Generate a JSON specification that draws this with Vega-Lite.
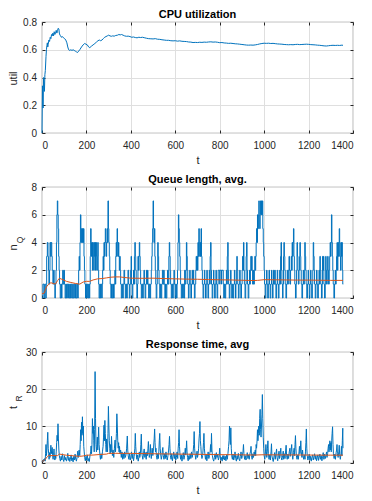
{
"$schema":"https://vega.github.io/schema/vega-lite/v6.json",
"padding":{"left":6,"top":8,"right":0,"bottom":0},
"spacing":54,
"bounds":"flush",
"config":{
"font":"Liberation Sans",
"view":{"stroke":"#8c8c8c","strokeWidth":1.2},
"axis":{"labelFont":"Liberation Sans","labelFontSize":10,"labelColor":"#262626","titleFont":"Liberation Sans","titleFontSize":11,"titleFontWeight":"normal","titleColor":"#262626","domain":false,"gridColor":"#dfdfdf","gridWidth":1,"tickColor":"#262626","tickSize":-3,"tickWidth":1},
"title":{"font":"Liberation Sans","fontSize":11,"fontWeight":"bold","color":"#000000","offset":-3}
},
"datasets":{
"cpu":[{"t":0,"u":0},{"t":2,"u":0.34},{"t":4,"u":0.2},{"t":5,"u":0.18},{"t":7,"u":0.4},{"t":9,"u":0.36},{"t":11,"u":0.3},{"t":13,"u":0.42},{"t":15,"u":0.45},{"t":18,"u":0.55},{"t":20,"u":0.6},{"t":22,"u":0.63},{"t":24,"u":0.65},{"t":26,"u":0.62},{"t":28,"u":0.64},{"t":31,"u":0.67},{"t":34,"u":0.66},{"t":37,"u":0.69},{"t":40,"u":0.68},{"t":43,"u":0.71},{"t":46,"u":0.7},{"t":49,"u":0.72},{"t":52,"u":0.7},{"t":55,"u":0.73},{"t":58,"u":0.71},{"t":61,"u":0.72},{"t":64,"u":0.74},{"t":67,"u":0.72},{"t":70,"u":0.74},{"t":73,"u":0.755},{"t":76,"u":0.75},{"t":78,"u":0.72},{"t":81,"u":0.705},{"t":84,"u":0.7},{"t":87,"u":0.69},{"t":92,"u":0.695},{"t":97,"u":0.685},{"t":102,"u":0.68},{"t":107,"u":0.67},{"t":112,"u":0.65},{"t":116,"u":0.62},{"t":120,"u":0.6},{"t":125,"u":0.595},{"t":130,"u":0.6},{"t":135,"u":0.595},{"t":140,"u":0.6},{"t":145,"u":0.595},{"t":150,"u":0.59},{"t":155,"u":0.585},{"t":160,"u":0.58},{"t":165,"u":0.59},{"t":170,"u":0.6},{"t":178,"u":0.62},{"t":185,"u":0.635},{"t":192,"u":0.645},{"t":198,"u":0.64},{"t":204,"u":0.635},{"t":210,"u":0.62},{"t":215,"u":0.615},{"t":222,"u":0.625},{"t":230,"u":0.635},{"t":238,"u":0.645},{"t":245,"u":0.655},{"t":252,"u":0.665},{"t":258,"u":0.67},{"t":264,"u":0.665},{"t":270,"u":0.67},{"t":276,"u":0.68},{"t":282,"u":0.69},{"t":288,"u":0.695},{"t":294,"u":0.7},{"t":300,"u":0.705},{"t":306,"u":0.7},{"t":312,"u":0.697},{"t":318,"u":0.7},{"t":325,"u":0.698},{"t":332,"u":0.703},{"t":340,"u":0.705},{"t":346,"u":0.71},{"t":352,"u":0.707},{"t":358,"u":0.71},{"t":365,"u":0.705},{"t":372,"u":0.7},{"t":380,"u":0.697},{"t":388,"u":0.698},{"t":396,"u":0.695},{"t":404,"u":0.69},{"t":412,"u":0.692},{"t":420,"u":0.688},{"t":428,"u":0.686},{"t":436,"u":0.69},{"t":444,"u":0.688},{"t":452,"u":0.69},{"t":460,"u":0.687},{"t":470,"u":0.683},{"t":480,"u":0.68},{"t":490,"u":0.679},{"t":500,"u":0.678},{"t":510,"u":0.68},{"t":520,"u":0.676},{"t":530,"u":0.675},{"t":540,"u":0.672},{"t":550,"u":0.67},{"t":560,"u":0.668},{"t":570,"u":0.668},{"t":580,"u":0.665},{"t":590,"u":0.664},{"t":600,"u":0.665},{"t":610,"u":0.662},{"t":620,"u":0.664},{"t":630,"u":0.661},{"t":640,"u":0.66},{"t":650,"u":0.659},{"t":660,"u":0.656},{"t":670,"u":0.655},{"t":680,"u":0.652},{"t":690,"u":0.653},{"t":700,"u":0.652},{"t":710,"u":0.654},{"t":720,"u":0.653},{"t":730,"u":0.655},{"t":740,"u":0.654},{"t":750,"u":0.656},{"t":760,"u":0.657},{"t":770,"u":0.655},{"t":780,"u":0.656},{"t":790,"u":0.654},{"t":800,"u":0.651},{"t":810,"u":0.652},{"t":820,"u":0.649},{"t":830,"u":0.648},{"t":840,"u":0.646},{"t":850,"u":0.647},{"t":860,"u":0.645},{"t":870,"u":0.643},{"t":880,"u":0.642},{"t":890,"u":0.64},{"t":900,"u":0.638},{"t":910,"u":0.636},{"t":920,"u":0.634},{"t":930,"u":0.633},{"t":940,"u":0.634},{"t":950,"u":0.633},{"t":960,"u":0.635},{"t":970,"u":0.638},{"t":980,"u":0.642},{"t":990,"u":0.645},{"t":1000,"u":0.647},{"t":1010,"u":0.646},{"t":1020,"u":0.647},{"t":1030,"u":0.645},{"t":1040,"u":0.646},{"t":1050,"u":0.644},{"t":1060,"u":0.642},{"t":1070,"u":0.641},{"t":1080,"u":0.64},{"t":1090,"u":0.638},{"t":1100,"u":0.637},{"t":1110,"u":0.636},{"t":1120,"u":0.637},{"t":1130,"u":0.636},{"t":1140,"u":0.638},{"t":1150,"u":0.639},{"t":1160,"u":0.637},{"t":1170,"u":0.638},{"t":1180,"u":0.639},{"t":1190,"u":0.64},{"t":1200,"u":0.639},{"t":1210,"u":0.637},{"t":1220,"u":0.636},{"t":1230,"u":0.635},{"t":1240,"u":0.633},{"t":1250,"u":0.632},{"t":1260,"u":0.63},{"t":1270,"u":0.628},{"t":1280,"u":0.627},{"t":1290,"u":0.629},{"t":1300,"u":0.631},{"t":1310,"u":0.632},{"t":1320,"u":0.631},{"t":1330,"u":0.632},{"t":1340,"u":0.631},{"t":1350,"u":0.633},{"t":1355,"u":0.632}],
"queue":[{"t":0,"n":0},{"t":4,"n":1},{"t":9,"n":0},{"t":12,"n":1},{"t":17,"n":0},{"t":19,"n":1},{"t":21,"n":3},{"t":24,"n":4},{"t":27,"n":3},{"t":29,"n":2},{"t":31,"n":1},{"t":34,"n":2},{"t":36,"n":4},{"t":39,"n":3},{"t":41,"n":4},{"t":44,"n":3},{"t":46,"n":2},{"t":49,"n":1},{"t":52,"n":2},{"t":55,"n":1},{"t":58,"n":0},{"t":60,"n":1},{"t":63,"n":2},{"t":65,"n":4},{"t":67,"n":6},{"t":69,"n":7},{"t":71,"n":6},{"t":73,"n":5},{"t":75,"n":3},{"t":77,"n":2},{"t":79,"n":1},{"t":82,"n":0},{"t":85,"n":1},{"t":88,"n":0},{"t":90,"n":1},{"t":93,"n":2},{"t":96,"n":1},{"t":99,"n":2},{"t":101,"n":1},{"t":104,"n":0},{"t":107,"n":1},{"t":110,"n":0},{"t":113,"n":1},{"t":116,"n":0},{"t":119,"n":1},{"t":122,"n":0},{"t":125,"n":1},{"t":128,"n":0},{"t":131,"n":1},{"t":134,"n":0},{"t":138,"n":1},{"t":141,"n":0},{"t":145,"n":1},{"t":148,"n":0},{"t":151,"n":1},{"t":154,"n":0},{"t":158,"n":1},{"t":161,"n":0},{"t":163,"n":1},{"t":165,"n":2},{"t":167,"n":3},{"t":169,"n":2},{"t":171,"n":4},{"t":173,"n":6},{"t":175,"n":5},{"t":177,"n":4},{"t":179,"n":5},{"t":181,"n":4},{"t":183,"n":5},{"t":185,"n":4},{"t":187,"n":5},{"t":189,"n":3},{"t":191,"n":2},{"t":193,"n":1},{"t":196,"n":0},{"t":198,"n":1},{"t":201,"n":0},{"t":204,"n":1},{"t":207,"n":0},{"t":210,"n":1},{"t":213,"n":0},{"t":215,"n":1},{"t":217,"n":3},{"t":219,"n":5},{"t":221,"n":4},{"t":223,"n":3},{"t":225,"n":4},{"t":227,"n":2},{"t":229,"n":4},{"t":231,"n":3},{"t":233,"n":2},{"t":235,"n":4},{"t":237,"n":3},{"t":239,"n":4},{"t":241,"n":2},{"t":243,"n":4},{"t":245,"n":3},{"t":247,"n":2},{"t":249,"n":3},{"t":251,"n":4},{"t":253,"n":2},{"t":255,"n":1},{"t":257,"n":0},{"t":260,"n":1},{"t":263,"n":0},{"t":266,"n":1},{"t":269,"n":0},{"t":271,"n":1},{"t":273,"n":2},{"t":275,"n":3},{"t":277,"n":2},{"t":279,"n":4},{"t":281,"n":3},{"t":283,"n":4},{"t":285,"n":5},{"t":287,"n":4},{"t":289,"n":3},{"t":291,"n":4},{"t":293,"n":5},{"t":295,"n":4},{"t":297,"n":7},{"t":299,"n":5},{"t":301,"n":4},{"t":303,"n":3},{"t":305,"n":2},{"t":307,"n":1},{"t":310,"n":0},{"t":313,"n":1},{"t":316,"n":0},{"t":319,"n":1},{"t":322,"n":0},{"t":325,"n":1},{"t":328,"n":2},{"t":330,"n":1},{"t":332,"n":3},{"t":334,"n":4},{"t":336,"n":3},{"t":338,"n":5},{"t":340,"n":4},{"t":342,"n":3},{"t":344,"n":4},{"t":346,"n":3},{"t":348,"n":2},{"t":350,"n":3},{"t":352,"n":2},{"t":354,"n":1},{"t":357,"n":0},{"t":360,"n":1},{"t":363,"n":0},{"t":366,"n":1},{"t":369,"n":2},{"t":372,"n":1},{"t":375,"n":0},{"t":378,"n":1},{"t":381,"n":0},{"t":384,"n":1},{"t":387,"n":2},{"t":390,"n":1},{"t":393,"n":0},{"t":396,"n":1},{"t":399,"n":2},{"t":401,"n":3},{"t":403,"n":1},{"t":406,"n":0},{"t":409,"n":1},{"t":412,"n":2},{"t":414,"n":1},{"t":416,"n":3},{"t":418,"n":4},{"t":420,"n":3},{"t":422,"n":2},{"t":424,"n":1},{"t":427,"n":0},{"t":430,"n":1},{"t":432,"n":3},{"t":434,"n":2},{"t":436,"n":3},{"t":438,"n":4},{"t":440,"n":3},{"t":442,"n":2},{"t":444,"n":1},{"t":447,"n":0},{"t":450,"n":1},{"t":453,"n":0},{"t":456,"n":1},{"t":459,"n":2},{"t":461,"n":1},{"t":464,"n":0},{"t":467,"n":1},{"t":470,"n":2},{"t":472,"n":1},{"t":475,"n":2},{"t":477,"n":1},{"t":480,"n":0},{"t":483,"n":1},{"t":486,"n":0},{"t":489,"n":1},{"t":492,"n":2},{"t":494,"n":3},{"t":496,"n":4},{"t":498,"n":5},{"t":500,"n":7},{"t":502,"n":5},{"t":504,"n":4},{"t":506,"n":5},{"t":508,"n":3},{"t":510,"n":2},{"t":512,"n":1},{"t":514,"n":0},{"t":517,"n":1},{"t":519,"n":2},{"t":521,"n":4},{"t":523,"n":3},{"t":525,"n":2},{"t":527,"n":1},{"t":530,"n":0},{"t":533,"n":1},{"t":536,"n":0},{"t":539,"n":1},{"t":542,"n":2},{"t":545,"n":1},{"t":548,"n":2},{"t":550,"n":1},{"t":553,"n":0},{"t":556,"n":1},{"t":559,"n":0},{"t":562,"n":1},{"t":565,"n":2},{"t":568,"n":1},{"t":571,"n":3},{"t":573,"n":4},{"t":575,"n":3},{"t":577,"n":2},{"t":579,"n":1},{"t":582,"n":0},{"t":585,"n":1},{"t":588,"n":0},{"t":591,"n":1},{"t":594,"n":2},{"t":596,"n":1},{"t":599,"n":0},{"t":602,"n":1},{"t":605,"n":0},{"t":608,"n":1},{"t":610,"n":2},{"t":612,"n":4},{"t":614,"n":6},{"t":616,"n":5},{"t":618,"n":4},{"t":620,"n":3},{"t":622,"n":2},{"t":624,"n":1},{"t":627,"n":0},{"t":630,"n":1},{"t":633,"n":0},{"t":636,"n":1},{"t":639,"n":0},{"t":642,"n":2},{"t":645,"n":1},{"t":648,"n":2},{"t":650,"n":4},{"t":652,"n":3},{"t":654,"n":2},{"t":656,"n":1},{"t":659,"n":0},{"t":662,"n":1},{"t":665,"n":2},{"t":667,"n":1},{"t":670,"n":0},{"t":673,"n":1},{"t":676,"n":2},{"t":678,"n":1},{"t":681,"n":2},{"t":683,"n":1},{"t":686,"n":0},{"t":689,"n":1},{"t":692,"n":2},{"t":694,"n":3},{"t":696,"n":2},{"t":698,"n":3},{"t":700,"n":2},{"t":702,"n":4},{"t":704,"n":3},{"t":706,"n":5},{"t":708,"n":4},{"t":710,"n":3},{"t":712,"n":4},{"t":714,"n":3},{"t":716,"n":5},{"t":718,"n":3},{"t":720,"n":2},{"t":722,"n":1},{"t":725,"n":0},{"t":728,"n":1},{"t":731,"n":2},{"t":733,"n":1},{"t":736,"n":0},{"t":739,"n":1},{"t":742,"n":2},{"t":744,"n":1},{"t":747,"n":0},{"t":750,"n":1},{"t":753,"n":2},{"t":755,"n":1},{"t":757,"n":3},{"t":759,"n":4},{"t":761,"n":2},{"t":763,"n":1},{"t":766,"n":0},{"t":769,"n":1},{"t":772,"n":2},{"t":774,"n":1},{"t":777,"n":0},{"t":780,"n":1},{"t":783,"n":2},{"t":785,"n":1},{"t":788,"n":0},{"t":791,"n":1},{"t":793,"n":2},{"t":800,"n":1},{"t":801,"n":2},{"t":808,"n":1},{"t":809,"n":2},{"t":816,"n":1},{"t":818,"n":0},{"t":821,"n":1},{"t":824,"n":0},{"t":827,"n":1},{"t":830,"n":2},{"t":832,"n":1},{"t":834,"n":3},{"t":836,"n":4},{"t":838,"n":2},{"t":840,"n":1},{"t":843,"n":0},{"t":846,"n":1},{"t":849,"n":2},{"t":851,"n":1},{"t":854,"n":0},{"t":857,"n":1},{"t":860,"n":0},{"t":863,"n":1},{"t":866,"n":2},{"t":868,"n":1},{"t":871,"n":0},{"t":873,"n":1},{"t":875,"n":2},{"t":877,"n":3},{"t":879,"n":2},{"t":881,"n":1},{"t":884,"n":0},{"t":887,"n":1},{"t":890,"n":2},{"t":892,"n":1},{"t":895,"n":0},{"t":898,"n":1},{"t":901,"n":2},{"t":903,"n":3},{"t":905,"n":2},{"t":907,"n":4},{"t":909,"n":2},{"t":911,"n":1},{"t":914,"n":0},{"t":917,"n":1},{"t":919,"n":3},{"t":921,"n":4},{"t":923,"n":2},{"t":925,"n":1},{"t":928,"n":0},{"t":931,"n":1},{"t":934,"n":2},{"t":936,"n":1},{"t":938,"n":2},{"t":940,"n":3},{"t":942,"n":2},{"t":944,"n":3},{"t":946,"n":2},{"t":948,"n":1},{"t":951,"n":2},{"t":953,"n":1},{"t":956,"n":2},{"t":958,"n":3},{"t":960,"n":2},{"t":962,"n":3},{"t":964,"n":4},{"t":966,"n":5},{"t":968,"n":4},{"t":970,"n":6},{"t":972,"n":5},{"t":974,"n":6},{"t":976,"n":7},{"t":978,"n":6},{"t":980,"n":5},{"t":982,"n":6},{"t":984,"n":7},{"t":986,"n":6},{"t":988,"n":7},{"t":990,"n":6},{"t":992,"n":7},{"t":994,"n":5},{"t":996,"n":4},{"t":998,"n":3},{"t":1000,"n":2},{"t":1002,"n":1},{"t":1005,"n":0},{"t":1008,"n":1},{"t":1011,"n":2},{"t":1013,"n":1},{"t":1016,"n":0},{"t":1019,"n":1},{"t":1022,"n":2},{"t":1024,"n":1},{"t":1027,"n":0},{"t":1030,"n":1},{"t":1033,"n":2},{"t":1035,"n":1},{"t":1038,"n":0},{"t":1040,"n":1},{"t":1042,"n":2},{"t":1045,"n":1},{"t":1048,"n":2},{"t":1050,"n":1},{"t":1053,"n":0},{"t":1056,"n":1},{"t":1059,"n":2},{"t":1061,"n":1},{"t":1064,"n":0},{"t":1067,"n":1},{"t":1070,"n":2},{"t":1072,"n":1},{"t":1074,"n":3},{"t":1076,"n":4},{"t":1078,"n":2},{"t":1080,"n":1},{"t":1083,"n":0},{"t":1085,"n":1},{"t":1087,"n":3},{"t":1089,"n":4},{"t":1091,"n":3},{"t":1093,"n":2},{"t":1095,"n":1},{"t":1098,"n":0},{"t":1101,"n":1},{"t":1104,"n":2},{"t":1106,"n":1},{"t":1109,"n":2},{"t":1112,"n":3},{"t":1114,"n":2},{"t":1116,"n":1},{"t":1119,"n":2},{"t":1122,"n":3},{"t":1124,"n":2},{"t":1126,"n":4},{"t":1128,"n":3},{"t":1130,"n":4},{"t":1132,"n":5},{"t":1134,"n":3},{"t":1136,"n":2},{"t":1138,"n":1},{"t":1141,"n":0},{"t":1144,"n":1},{"t":1146,"n":2},{"t":1148,"n":4},{"t":1150,"n":3},{"t":1152,"n":2},{"t":1154,"n":1},{"t":1157,"n":2},{"t":1159,"n":3},{"t":1161,"n":4},{"t":1163,"n":3},{"t":1165,"n":2},{"t":1167,"n":1},{"t":1170,"n":0},{"t":1173,"n":1},{"t":1176,"n":2},{"t":1178,"n":1},{"t":1181,"n":2},{"t":1183,"n":4},{"t":1185,"n":3},{"t":1187,"n":2},{"t":1189,"n":1},{"t":1192,"n":0},{"t":1195,"n":1},{"t":1198,"n":2},{"t":1200,"n":1},{"t":1203,"n":0},{"t":1206,"n":1},{"t":1209,"n":2},{"t":1211,"n":1},{"t":1214,"n":0},{"t":1217,"n":1},{"t":1219,"n":2},{"t":1221,"n":4},{"t":1223,"n":3},{"t":1225,"n":2},{"t":1227,"n":1},{"t":1230,"n":0},{"t":1233,"n":1},{"t":1236,"n":2},{"t":1238,"n":1},{"t":1241,"n":0},{"t":1244,"n":1},{"t":1247,"n":2},{"t":1249,"n":1},{"t":1251,"n":3},{"t":1253,"n":2},{"t":1255,"n":1},{"t":1258,"n":0},{"t":1261,"n":1},{"t":1263,"n":3},{"t":1265,"n":2},{"t":1267,"n":3},{"t":1269,"n":1},{"t":1272,"n":0},{"t":1275,"n":1},{"t":1277,"n":3},{"t":1279,"n":2},{"t":1281,"n":1},{"t":1284,"n":2},{"t":1286,"n":3},{"t":1288,"n":2},{"t":1290,"n":1},{"t":1293,"n":2},{"t":1295,"n":3},{"t":1297,"n":4},{"t":1299,"n":3},{"t":1301,"n":4},{"t":1303,"n":6},{"t":1305,"n":4},{"t":1307,"n":3},{"t":1309,"n":2},{"t":1311,"n":1},{"t":1314,"n":0},{"t":1317,"n":1},{"t":1320,"n":2},{"t":1322,"n":1},{"t":1324,"n":2},{"t":1326,"n":3},{"t":1328,"n":4},{"t":1330,"n":2},{"t":1332,"n":3},{"t":1334,"n":4},{"t":1336,"n":3},{"t":1338,"n":5},{"t":1340,"n":4},{"t":1342,"n":3},{"t":1344,"n":2},{"t":1346,"n":4},{"t":1348,"n":3},{"t":1350,"n":4},{"t":1352,"n":2},{"t":1354,"n":1},{"t":1356,"n":1}],
"qavg":[{"t":0,"a":0.3},{"t":10,"a":0.35},{"t":20,"a":0.8},{"t":30,"a":1.0},{"t":40,"a":1.1},{"t":50,"a":1.05},{"t":60,"a":1.0},{"t":70,"a":1.25},{"t":78,"a":1.42},{"t":90,"a":1.35},{"t":110,"a":1.2},{"t":130,"a":1.12},{"t":150,"a":1.05},{"t":170,"a":1.0},{"t":185,"a":1.15},{"t":200,"a":1.2},{"t":215,"a":1.2},{"t":230,"a":1.3},{"t":250,"a":1.38},{"t":270,"a":1.4},{"t":290,"a":1.45},{"t":310,"a":1.5},{"t":330,"a":1.52},{"t":350,"a":1.52},{"t":370,"a":1.48},{"t":400,"a":1.43},{"t":450,"a":1.42},{"t":500,"a":1.43},{"t":550,"a":1.4},{"t":600,"a":1.38},{"t":650,"a":1.36},{"t":700,"a":1.35},{"t":750,"a":1.33},{"t":800,"a":1.31},{"t":850,"a":1.3},{"t":900,"a":1.28},{"t":950,"a":1.26},{"t":970,"a":1.27},{"t":1000,"a":1.32},{"t":1050,"a":1.31},{"t":1100,"a":1.3},{"t":1150,"a":1.29},{"t":1200,"a":1.29},{"t":1250,"a":1.28},{"t":1300,"a":1.27},{"t":1355,"a":1.27}],
"resp":[{"t":0,"r":0.3},{"t":2,"r":0.5},{"t":4,"r":0.8},{"t":6,"r":0.4},{"t":8,"r":1.0},{"t":10,"r":0.6},{"t":12,"r":1.2},{"t":14,"r":0.5},{"t":16,"r":2.5},{"t":18,"r":5.0},{"t":20,"r":2.0},{"t":22,"r":3.5},{"t":24,"r":6.0},{"t":26,"r":8.3},{"t":28,"r":4.0},{"t":30,"r":2.5},{"t":32,"r":1.0},{"t":34,"r":2.8},{"t":36,"r":1.5},{"t":38,"r":3.0},{"t":40,"r":4.8},{"t":42,"r":2.5},{"t":44,"r":3.5},{"t":46,"r":4.2},{"t":48,"r":2.0},{"t":50,"r":1.0},{"t":52,"r":2.2},{"t":54,"r":3.8},{"t":56,"r":1.5},{"t":58,"r":0.8},{"t":60,"r":2.0},{"t":62,"r":1.2},{"t":64,"r":3.0},{"t":66,"r":5.5},{"t":68,"r":7.5},{"t":70,"r":6.0},{"t":72,"r":10.6},{"t":74,"r":6.5},{"t":76,"r":3.5},{"t":78,"r":2.0},{"t":80,"r":1.2},{"t":83,"r":0.5},{"t":86,"r":1.8},{"t":89,"r":0.8},{"t":92,"r":2.5},{"t":95,"r":1.0},{"t":98,"r":0.4},{"t":101,"r":2.0},{"t":104,"r":0.8},{"t":107,"r":1.5},{"t":110,"r":0.5},{"t":113,"r":1.2},{"t":116,"r":2.6},{"t":119,"r":0.7},{"t":122,"r":1.5},{"t":125,"r":0.4},{"t":128,"r":1.0},{"t":131,"r":2.2},{"t":134,"r":0.6},{"t":137,"r":1.4},{"t":140,"r":0.3},{"t":143,"r":1.8},{"t":146,"r":0.8},{"t":149,"r":2.4},{"t":152,"r":1.0},{"t":155,"r":0.5},{"t":158,"r":1.6},{"t":161,"r":3.2},{"t":164,"r":1.5},{"t":167,"r":3.5},{"t":170,"r":2.0},{"t":172,"r":5.0},{"t":174,"r":9.0},{"t":176,"r":6.0},{"t":178,"r":11.0},{"t":180,"r":7.5},{"t":182,"r":12.5},{"t":184,"r":8.0},{"t":186,"r":10.0},{"t":188,"r":4.5},{"t":190,"r":3.0},{"t":192,"r":1.5},{"t":195,"r":0.6},{"t":198,"r":1.8},{"t":201,"r":0.8},{"t":204,"r":2.2},{"t":207,"r":0.5},{"t":210,"r":1.2},{"t":213,"r":0.4},{"t":216,"r":2.0},{"t":219,"r":3.0},{"t":221,"r":4.6},{"t":223,"r":2.5},{"t":225,"r":5.0},{"t":227,"r":12.0},{"t":229,"r":8.0},{"t":231,"r":10.0},{"t":233,"r":6.0},{"t":235,"r":3.0},{"t":237,"r":9.0},{"t":239,"r":24.7},{"t":241,"r":12.0},{"t":243,"r":5.0},{"t":245,"r":3.0},{"t":247,"r":4.5},{"t":249,"r":7.0},{"t":251,"r":3.5},{"t":253,"r":6.0},{"t":255,"r":9.7},{"t":257,"r":5.0},{"t":259,"r":3.5},{"t":261,"r":2.0},{"t":263,"r":1.0},{"t":266,"r":2.5},{"t":269,"r":1.2},{"t":272,"r":3.0},{"t":275,"r":4.5},{"t":277,"r":7.0},{"t":279,"r":10.2},{"t":281,"r":6.0},{"t":283,"r":11.5},{"t":285,"r":8.0},{"t":287,"r":5.0},{"t":289,"r":3.0},{"t":291,"r":6.5},{"t":293,"r":4.0},{"t":295,"r":3.0},{"t":297,"r":8.0},{"t":299,"r":15.3},{"t":301,"r":10.0},{"t":303,"r":6.0},{"t":305,"r":4.0},{"t":307,"r":2.5},{"t":309,"r":5.0},{"t":311,"r":3.0},{"t":313,"r":7.2},{"t":315,"r":4.0},{"t":317,"r":2.0},{"t":320,"r":3.5},{"t":323,"r":1.5},{"t":326,"r":4.0},{"t":329,"r":6.2},{"t":331,"r":3.0},{"t":333,"r":5.5},{"t":335,"r":8.0},{"t":337,"r":13.3},{"t":339,"r":10.0},{"t":341,"r":6.0},{"t":343,"r":4.0},{"t":345,"r":5.5},{"t":347,"r":3.0},{"t":349,"r":4.5},{"t":351,"r":2.5},{"t":354,"r":3.5},{"t":357,"r":1.5},{"t":360,"r":3.0},{"t":363,"r":1.0},{"t":366,"r":2.5},{"t":369,"r":1.2},{"t":372,"r":3.0},{"t":375,"r":1.5},{"t":378,"r":2.2},{"t":381,"r":4.0},{"t":384,"r":7.3},{"t":386,"r":3.5},{"t":388,"r":2.0},{"t":391,"r":1.0},{"t":394,"r":2.5},{"t":397,"r":0.8},{"t":400,"r":1.6},{"t":403,"r":3.0},{"t":406,"r":1.2},{"t":409,"r":2.4},{"t":412,"r":0.6},{"t":415,"r":1.8},{"t":418,"r":4.0},{"t":420,"r":8.0},{"t":422,"r":4.5},{"t":424,"r":2.5},{"t":427,"r":1.0},{"t":430,"r":2.2},{"t":433,"r":0.5},{"t":436,"r":1.5},{"t":438,"r":3.0},{"t":440,"r":1.5},{"t":443,"r":2.5},{"t":445,"r":5.0},{"t":447,"r":7.8},{"t":449,"r":3.5},{"t":451,"r":2.0},{"t":454,"r":1.0},{"t":457,"r":2.5},{"t":460,"r":3.8},{"t":463,"r":1.5},{"t":466,"r":2.8},{"t":469,"r":1.0},{"t":472,"r":3.0},{"t":475,"r":2.0},{"t":477,"r":4.0},{"t":479,"r":5.8},{"t":481,"r":3.0},{"t":483,"r":1.5},{"t":486,"r":2.4},{"t":488,"r":5.0},{"t":490,"r":2.5},{"t":492,"r":1.2},{"t":494,"r":2.8},{"t":496,"r":4.0},{"t":499,"r":2.0},{"t":502,"r":4.0},{"t":505,"r":6.5},{"t":507,"r":9.2},{"t":509,"r":5.5},{"t":511,"r":3.0},{"t":513,"r":4.0},{"t":515,"r":2.0},{"t":518,"r":1.0},{"t":521,"r":2.5},{"t":524,"r":1.2},{"t":526,"r":3.2},{"t":528,"r":6.0},{"t":530,"r":8.0},{"t":532,"r":4.0},{"t":534,"r":2.5},{"t":537,"r":1.0},{"t":540,"r":2.0},{"t":542,"r":3.5},{"t":544,"r":4.2},{"t":546,"r":2.0},{"t":549,"r":1.0},{"t":552,"r":2.5},{"t":555,"r":1.2},{"t":558,"r":3.0},{"t":561,"r":1.5},{"t":564,"r":0.8},{"t":567,"r":2.0},{"t":570,"r":3.5},{"t":572,"r":5.0},{"t":574,"r":7.2},{"t":576,"r":4.0},{"t":578,"r":2.0},{"t":581,"r":1.0},{"t":584,"r":2.5},{"t":587,"r":0.6},{"t":590,"r":1.8},{"t":593,"r":3.0},{"t":596,"r":1.2},{"t":599,"r":2.4},{"t":602,"r":0.8},{"t":605,"r":1.5},{"t":608,"r":3.0},{"t":611,"r":1.2},{"t":613,"r":4.0},{"t":615,"r":5.5},{"t":617,"r":9.0},{"t":619,"r":4.5},{"t":621,"r":2.5},{"t":624,"r":1.0},{"t":627,"r":2.2},{"t":630,"r":0.5},{"t":633,"r":1.6},{"t":636,"r":2.8},{"t":639,"r":1.0},{"t":642,"r":2.0},{"t":645,"r":4.0},{"t":647,"r":2.2},{"t":649,"r":3.5},{"t":651,"r":6.0},{"t":653,"r":3.0},{"t":655,"r":1.5},{"t":658,"r":0.6},{"t":661,"r":2.0},{"t":664,"r":1.0},{"t":667,"r":2.5},{"t":670,"r":1.2},{"t":673,"r":3.0},{"t":676,"r":1.5},{"t":679,"r":2.4},{"t":681,"r":3.5},{"t":683,"r":5.0},{"t":685,"r":8.5},{"t":687,"r":4.0},{"t":689,"r":2.5},{"t":692,"r":1.0},{"t":695,"r":2.0},{"t":698,"r":3.2},{"t":700,"r":1.5},{"t":703,"r":2.5},{"t":705,"r":4.0},{"t":707,"r":6.5},{"t":709,"r":8.0},{"t":711,"r":11.2},{"t":713,"r":6.0},{"t":715,"r":4.5},{"t":717,"r":2.5},{"t":720,"r":1.2},{"t":723,"r":2.0},{"t":725,"r":3.5},{"t":727,"r":5.5},{"t":729,"r":8.0},{"t":731,"r":4.0},{"t":733,"r":2.5},{"t":736,"r":1.0},{"t":739,"r":2.2},{"t":742,"r":0.6},{"t":745,"r":1.8},{"t":748,"r":3.0},{"t":751,"r":1.2},{"t":754,"r":2.0},{"t":757,"r":3.2},{"t":759,"r":5.0},{"t":761,"r":3.0},{"t":763,"r":8.0},{"t":765,"r":3.5},{"t":767,"r":2.0},{"t":770,"r":1.0},{"t":773,"r":0.5},{"t":776,"r":1.5},{"t":779,"r":2.5},{"t":782,"r":1.0},{"t":785,"r":2.8},{"t":788,"r":1.5},{"t":791,"r":2.4},{"t":794,"r":0.8},{"t":797,"r":1.5},{"t":800,"r":4.0},{"t":802,"r":2.0},{"t":805,"r":0.8},{"t":808,"r":1.5},{"t":811,"r":0.5},{"t":814,"r":2.0},{"t":816,"r":1.0},{"t":819,"r":2.0},{"t":822,"r":0.8},{"t":825,"r":1.8},{"t":828,"r":0.6},{"t":831,"r":2.2},{"t":834,"r":1.0},{"t":837,"r":2.5},{"t":840,"r":4.5},{"t":842,"r":6.0},{"t":844,"r":10.0},{"t":846,"r":7.0},{"t":848,"r":5.0},{"t":850,"r":9.5},{"t":852,"r":4.0},{"t":854,"r":2.0},{"t":857,"r":1.0},{"t":860,"r":2.4},{"t":863,"r":0.8},{"t":866,"r":1.6},{"t":869,"r":3.0},{"t":872,"r":1.2},{"t":875,"r":0.5},{"t":878,"r":2.0},{"t":881,"r":1.0},{"t":884,"r":2.6},{"t":887,"r":1.2},{"t":890,"r":0.6},{"t":893,"r":1.8},{"t":896,"r":3.0},{"t":899,"r":1.2},{"t":902,"r":2.0},{"t":905,"r":3.2},{"t":907,"r":5.0},{"t":909,"r":2.5},{"t":912,"r":1.0},{"t":915,"r":2.0},{"t":918,"r":0.8},{"t":921,"r":1.5},{"t":924,"r":2.8},{"t":927,"r":1.2},{"t":930,"r":2.2},{"t":933,"r":1.0},{"t":936,"r":2.5},{"t":939,"r":3.2},{"t":941,"r":4.5},{"t":943,"r":2.0},{"t":946,"r":1.0},{"t":949,"r":2.5},{"t":952,"r":1.5},{"t":955,"r":3.0},{"t":958,"r":2.0},{"t":960,"r":3.5},{"t":962,"r":2.0},{"t":964,"r":5.0},{"t":966,"r":4.0},{"t":968,"r":6.0},{"t":970,"r":9.0},{"t":972,"r":6.0},{"t":974,"r":8.0},{"t":976,"r":10.0},{"t":978,"r":7.5},{"t":980,"r":12.0},{"t":982,"r":14.5},{"t":984,"r":9.0},{"t":986,"r":7.0},{"t":988,"r":10.0},{"t":990,"r":13.0},{"t":992,"r":18.5},{"t":994,"r":12.0},{"t":996,"r":7.0},{"t":998,"r":4.0},{"t":1000,"r":2.0},{"t":1003,"r":1.0},{"t":1006,"r":3.0},{"t":1008,"r":5.0},{"t":1010,"r":3.0},{"t":1012,"r":1.5},{"t":1015,"r":4.0},{"t":1017,"r":6.0},{"t":1019,"r":2.5},{"t":1022,"r":1.0},{"t":1025,"r":2.2},{"t":1028,"r":0.8},{"t":1031,"r":3.0},{"t":1033,"r":5.2},{"t":1035,"r":2.0},{"t":1038,"r":1.0},{"t":1041,"r":0.4},{"t":1044,"r":1.6},{"t":1047,"r":2.8},{"t":1050,"r":1.0},{"t":1053,"r":2.5},{"t":1056,"r":3.8},{"t":1058,"r":1.5},{"t":1061,"r":0.6},{"t":1064,"r":2.0},{"t":1067,"r":3.2},{"t":1069,"r":1.2},{"t":1072,"r":2.4},{"t":1075,"r":4.0},{"t":1077,"r":1.5},{"t":1080,"r":0.8},{"t":1083,"r":2.0},{"t":1086,"r":3.2},{"t":1088,"r":1.0},{"t":1091,"r":2.5},{"t":1094,"r":1.2},{"t":1097,"r":3.5},{"t":1099,"r":4.8},{"t":1101,"r":2.0},{"t":1104,"r":1.0},{"t":1107,"r":2.4},{"t":1110,"r":1.2},{"t":1113,"r":3.0},{"t":1116,"r":4.0},{"t":1118,"r":1.8},{"t":1121,"r":3.2},{"t":1124,"r":5.0},{"t":1126,"r":2.4},{"t":1129,"r":1.0},{"t":1132,"r":2.8},{"t":1135,"r":4.0},{"t":1137,"r":2.0},{"t":1139,"r":5.0},{"t":1141,"r":7.4},{"t":1143,"r":4.0},{"t":1145,"r":2.0},{"t":1148,"r":1.0},{"t":1151,"r":2.2},{"t":1154,"r":1.0},{"t":1157,"r":3.0},{"t":1159,"r":4.5},{"t":1161,"r":2.5},{"t":1163,"r":3.5},{"t":1165,"r":6.0},{"t":1167,"r":3.0},{"t":1170,"r":1.5},{"t":1173,"r":3.5},{"t":1175,"r":2.0},{"t":1178,"r":1.0},{"t":1181,"r":2.2},{"t":1184,"r":1.0},{"t":1186,"r":3.0},{"t":1188,"r":5.5},{"t":1190,"r":9.2},{"t":1192,"r":4.0},{"t":1194,"r":2.0},{"t":1197,"r":0.8},{"t":1200,"r":1.6},{"t":1203,"r":2.4},{"t":1206,"r":0.8},{"t":1209,"r":1.8},{"t":1212,"r":0.5},{"t":1215,"r":1.5},{"t":1218,"r":2.2},{"t":1221,"r":0.8},{"t":1224,"r":1.6},{"t":1227,"r":2.5},{"t":1230,"r":1.0},{"t":1233,"r":2.0},{"t":1236,"r":0.6},{"t":1239,"r":1.4},{"t":1242,"r":2.2},{"t":1245,"r":0.7},{"t":1248,"r":1.6},{"t":1251,"r":2.4},{"t":1254,"r":1.0},{"t":1257,"r":2.0},{"t":1260,"r":0.6},{"t":1263,"r":1.8},{"t":1266,"r":2.8},{"t":1269,"r":1.0},{"t":1272,"r":2.4},{"t":1275,"r":1.2},{"t":1278,"r":2.0},{"t":1281,"r":3.0},{"t":1283,"r":1.5},{"t":1286,"r":2.6},{"t":1288,"r":4.0},{"t":1290,"r":5.0},{"t":1292,"r":3.0},{"t":1294,"r":4.5},{"t":1296,"r":6.0},{"t":1298,"r":3.5},{"t":1300,"r":5.5},{"t":1302,"r":3.0},{"t":1304,"r":6.0},{"t":1306,"r":8.0},{"t":1308,"r":9.8},{"t":1310,"r":5.0},{"t":1312,"r":2.5},{"t":1315,"r":1.2},{"t":1318,"r":2.4},{"t":1321,"r":1.0},{"t":1324,"r":2.8},{"t":1326,"r":3.5},{"t":1328,"r":5.0},{"t":1330,"r":2.5},{"t":1333,"r":1.5},{"t":1336,"r":3.0},{"t":1338,"r":4.8},{"t":1340,"r":2.2},{"t":1343,"r":1.0},{"t":1346,"r":2.5},{"t":1348,"r":4.5},{"t":1350,"r":2.0},{"t":1352,"r":6.0},{"t":1354,"r":9.4},{"t":1355,"r":4.0}],
"ravg":[{"t":0,"a":0.5},{"t":8,"a":0.6},{"t":15,"a":1.0},{"t":25,"a":1.8},{"t":30,"a":2.0},{"t":50,"a":2.0},{"t":70,"a":2.0},{"t":78,"a":2.4},{"t":90,"a":2.3},{"t":110,"a":2.1},{"t":140,"a":1.95},{"t":170,"a":1.8},{"t":185,"a":1.9},{"t":200,"a":2.1},{"t":230,"a":2.15},{"t":260,"a":2.3},{"t":290,"a":2.4},{"t":300,"a":2.6},{"t":330,"a":2.62},{"t":370,"a":2.6},{"t":400,"a":2.6},{"t":450,"a":2.55},{"t":500,"a":2.5},{"t":550,"a":2.45},{"t":600,"a":2.42},{"t":650,"a":2.38},{"t":700,"a":2.35},{"t":750,"a":2.3},{"t":800,"a":2.25},{"t":850,"a":2.25},{"t":900,"a":2.2},{"t":960,"a":2.15},{"t":990,"a":2.22},{"t":1000,"a":2.22},{"t":1050,"a":2.2},{"t":1100,"a":2.18},{"t":1150,"a":2.18},{"t":1200,"a":2.15},{"t":1250,"a":2.13},{"t":1300,"a":2.12},{"t":1355,"a":2.12}]
},
"vconcat":[
{
"width":311,"height":111,
"title":{"text":"CPU utilization"},
"layer":[
{"data":{"name":"cpu"},"mark":{"type":"line","color":"#0072BD","strokeWidth":1},
"encoding":{
"x":{"field":"t","type":"quantitative","scale":{"domain":[0,1400],"nice":false},"axis":{"values":[0,200,400,600,800,1000,1200,1400],"format":"d","title":"t","labelPadding":10,"titleBaseline":"alphabetic","titleY":30.5}},
"y":{"field":"u","type":"quantitative","scale":{"domain":[0,0.8],"nice":false},"axis":{"values":[0,0.2,0.4,0.6,0.8],"format":"~g","title":"util","labelPadding":8.5,"titleBaseline":"alphabetic","titleX":-25.7,"titleY":56}}}},
{"data":{"name":"cpu"},"mark":{"type":"point","opacity":0},
"encoding":{
"x":{"field":"t","type":"quantitative","axis":{"orient":"top","values":[0,200,400,600,800,1000,1200,1400],"labels":false,"grid":false,"title":null}},
"y":{"field":"u","type":"quantitative","axis":{"orient":"right","values":[0,0.2,0.4,0.6,0.8],"labels":false,"grid":false,"title":null}}}}
],
"resolve":{"axis":{"x":"independent","y":"independent"}}
},
{
"width":311,"height":111,
"title":{"text":"Queue length, avg."},
"layer":[
{"data":{"name":"queue"},"mark":{"type":"line","color":"#0072BD","strokeWidth":1,"interpolate":"step-after"},
"encoding":{
"x":{"field":"t","type":"quantitative","scale":{"domain":[0,1400],"nice":false},"axis":{"values":[0,200,400,600,800,1000,1200,1400],"format":"d","title":"t","labelPadding":10,"titleBaseline":"alphabetic","titleY":30.5}},
"y":{"field":"n","type":"quantitative","scale":{"domain":[0,8],"nice":false},"axis":{"values":[0,2,4,6,8],"title":"n","labelPadding":8.5,"titleBaseline":"alphabetic","titleX":-26,"titleY":60}}}},
{"data":{"name":"qavg"},"mark":{"type":"line","color":"#D95319","strokeWidth":1},
"encoding":{
"x":{"field":"t","type":"quantitative","axis":{"orient":"top","values":[0,200,400,600,800,1000,1200,1400],"labels":false,"grid":false,"title":null}},
"y":{"field":"a","type":"quantitative","axis":{"orient":"right","values":[0,2,4,6,8],"labels":false,"grid":false,"title":null}}}},
{"data":{"name":"qavg"},"mark":{"type":"point","opacity":0},
"encoding":{
"x":{"field":"t","type":"quantitative","axis":null},
"y":{"field":"a","type":"quantitative","axis":{"orient":"left","labels":false,"ticks":false,"grid":false,"title":"Q","titleFontSize":8.5,"titleBaseline":"alphabetic","titleX":-20,"titleY":52.5}}}}
],
"resolve":{"axis":{"x":"independent","y":"independent"}}
},
{
"width":311,"height":111,
"title":{"text":"Response time, avg"},
"layer":[
{"data":{"name":"resp"},"mark":{"type":"line","color":"#0072BD","strokeWidth":1},
"encoding":{
"x":{"field":"t","type":"quantitative","scale":{"domain":[0,1400],"nice":false},"axis":{"values":[0,200,400,600,800,1000,1200,1400],"format":"d","title":"t","labelPadding":10,"titleBaseline":"alphabetic","titleY":30.5}},
"y":{"field":"r","type":"quantitative","scale":{"domain":[0,30],"nice":false},"axis":{"values":[0,10,20,30],"title":"t","labelPadding":8.5,"titleBaseline":"alphabetic","titleX":-25.5,"titleY":55}}}},
{"data":{"name":"ravg"},"mark":{"type":"line","color":"#D95319","strokeWidth":1},
"encoding":{
"x":{"field":"t","type":"quantitative","axis":{"orient":"top","values":[0,200,400,600,800,1000,1200,1400],"labels":false,"grid":false,"title":null}},
"y":{"field":"a","type":"quantitative","axis":{"orient":"right","values":[0,10,20,30],"labels":false,"grid":false,"title":null}}}},
{"data":{"name":"ravg"},"mark":{"type":"point","opacity":0},
"encoding":{
"x":{"field":"t","type":"quantitative","axis":null},
"y":{"field":"a","type":"quantitative","axis":{"orient":"left","labels":false,"ticks":false,"grid":false,"title":"R","titleFontSize":8.5,"titleBaseline":"alphabetic","titleX":-21,"titleY":46}}}}
],
"resolve":{"axis":{"x":"independent","y":"independent"}}
}
]
}
